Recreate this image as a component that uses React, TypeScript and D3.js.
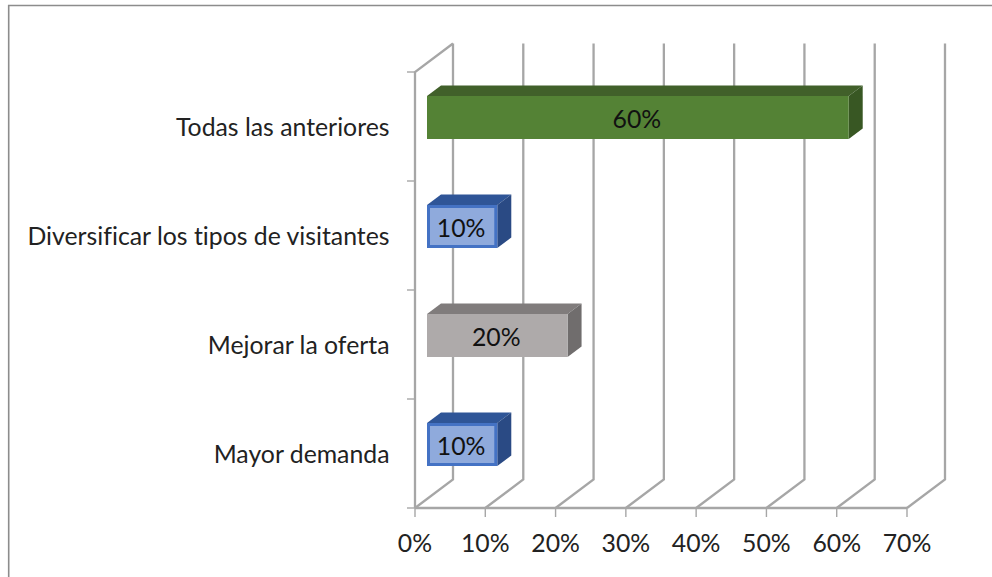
import React from "react";
import * as d3 from "d3";

const categories = ["Todas las anteriores", "Diversificar los tipos de visitantes", "Mejorar la oferta", "Mayor demanda"];
const values = [60, 10, 20, 10];
const tickValues = [0, 10, 20, 30, 40, 50, 60, 70];
const frontColors = ["#548235", "#8faadc", "#aeaaaa", "#8faadc"];
const topColors = ["#41602a", "#2f5597", "#807c7c", "#2f5597"];
const sideColors = ["#385723", "#2a4a84", "#706d6d", "#2a4a84"];
const strokeColors = ["#548235", "#4472c4", "#aeaaaa", "#4472c4"];

const W = 992, H = 577;
const FONT = "Lato, 'Open Sans', sans-serif";
const GRID = "#a6a6a6";
const FS = 24.8;
const x = d3.scaleLinear().domain([0, 70]).range([415, 907]);
const y = d3.scaleBand<string>().domain(categories).range([72, 508]);
const DX = 38, DY = 28.5;
const BX = 14, BY = 10.5;
const OFF = 12;

export default function App() {
  const bandTicks = [...categories.map((c) => y(c)!), 508];
  return (
    <svg width={W} height={H} style={{ position: "absolute", left: 0, top: 0, background: "#fff", fontVariantLigatures: "none" }} fontFamily={FONT}>
      <path d={`M8.7 ${H}V5.5H${W}`} fill="none" stroke="#8c8c8c" strokeWidth={1.6} />
      {tickValues.map((t) => {
        const fx = x(t), bx = fx + DX;
        return (
          <g key={t}>
            <path d={`M${fx} 508L${bx} ${508 - DY}V${72 - DY}`} fill="none" stroke={GRID} strokeWidth={2.3} />
            <line x1={fx} x2={fx} y1={508} y2={517} stroke={GRID} strokeWidth={1.4} />
            <text x={fx} y={551.5} textAnchor="middle" fontSize={FS} fill="#222">{t}%</text>
          </g>
        );
      })}
      <path d={`M415 508V72L453 ${72 - DY}`} fill="none" stroke={GRID} strokeWidth={2.3} />
      <line x1={415} x2={907} y1={508} y2={508} stroke={GRID} strokeWidth={2.3} />
      {bandTicks.map((t) => (
        <line key={t} x1={407} x2={415} y1={t} y2={t} stroke={GRID} strokeWidth={1.4} />
      ))}
      {categories.map((c, i) => {
        const top = y(c)! + 24;
        const h = 43;
        const x0 = x(0) + OFF;
        const x1 = x(values[i]) + OFF;
        const sw = i === 1 || i === 3 ? 3 : 0;
        return (
          <g key={c}>
            <path d={`M${x0} ${top}L${x0 + BX} ${top - BY}H${x1 + BX}L${x1} ${top}Z`} fill={topColors[i]} />
            <path d={`M${x1} ${top}L${x1 + BX} ${top - BY}V${top + h - BY}L${x1} ${top + h}Z`} fill={sideColors[i]} />
            <rect x={x0 + sw / 2} y={top + sw / 2} width={x1 - x0 - sw} height={h - sw} fill={frontColors[i]} stroke={strokeColors[i]} strokeWidth={sw} />
            <text x={(x0 + x1) / 2 - 1} y={top + 31.5} textAnchor="middle" fontSize={FS} fill="#111">{values[i]}%</text>
            <text x={389.5} y={y(c)! + 64} textAnchor="end" fontSize={FS} fill="#222">{c}</text>
          </g>
        );
      })}
    </svg>
  );
}
